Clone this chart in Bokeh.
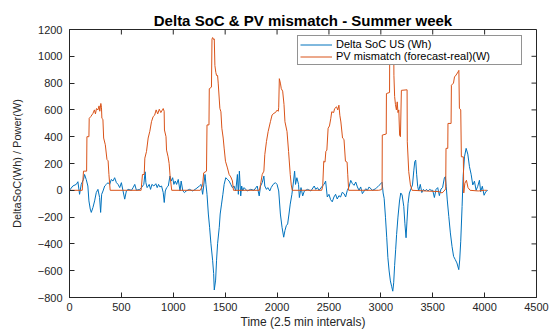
import math
from bokeh.plotting import figure
from bokeh.models import Range1d, FixedTicker, Legend, LegendItem
from bokeh.embed import file_html
from bokeh.resources import INLINE

# ---------------- data ----------------
x_ticks = [0, 500, 1000, 1500, 2000, 2500, 3000, 3500, 4000, 4500]
y_ticks = [-800, -600, -400, -200, 0, 200, 400, 600, 800, 1000, 1200]

soc_t = [0, 32, 65, 81, 97, 113, 135, 145, 161, 177, 187, 200, 210, 226, 242, 258, 274, 290, 300, 310,
         323, 339, 355, 371, 387, 403, 419, 435, 452, 468, 484, 500, 516, 532, 548, 565, 597, 613, 629, 645,
         677, 694, 716, 729, 736, 748, 768, 781, 794, 813, 832, 845, 858, 871, 887, 903, 913, 923, 936, 952,
         968, 981, 994, 1006, 1019, 1032, 1048, 1065, 1076, 1092, 1108, 1124, 1156, 1188, 1220, 1252, 1268,
         1283, 1293, 1306, 1315, 1325, 1338, 1350, 1363, 1379, 1389, 1395, 1408, 1417, 1427, 1443, 1452,
         1465, 1478, 1490, 1506, 1522, 1538, 1554, 1570, 1586, 1602, 1618, 1627, 1637, 1650, 1659, 1669,
         1682, 1713, 1745, 1777, 1809, 1818, 1828, 1841, 1857, 1873, 1882, 1898, 1911, 1930, 1943, 1962,
         1984, 2000, 2016, 2032, 2048, 2064, 2076, 2089, 2102, 2115, 2127, 2143, 2159, 2169, 2178, 2191,
         2207, 2215, 2231, 2247, 2263, 2294, 2326, 2358, 2373, 2389, 2405, 2437, 2453, 2468, 2484, 2500,
         2516, 2532, 2548, 2564, 2580, 2596, 2612, 2628, 2645, 2661, 2677, 2693, 2710, 2726, 2742, 2758,
         2774, 2790, 2806, 2822, 2855, 2871, 2887, 2919, 2951, 2983, 3000, 3012, 3022, 3032, 3045, 3057,
         3068, 3080, 3092, 3105, 3115, 3124, 3133, 3143, 3152, 3165, 3180, 3192, 3205, 3221, 3232, 3243,
         3252, 3262, 3275, 3290, 3305, 3318, 3327, 3336, 3345, 3355, 3365, 3380, 3395, 3410, 3425, 3440,
         3455, 3470, 3485, 3500, 3516, 3532, 3548, 3564, 3580, 3595, 3612, 3622, 3630, 3640, 3655, 3670,
         3686, 3701, 3717, 3733, 3751, 3760, 3770, 3783, 3793, 3806, 3822, 3838, 3854, 3870, 3886, 3902,
         3918, 3934, 3950, 3962, 3978, 3995, 4011, 4030]
soc_v = [0, 32, 44, 64, -30, 44, 81, 118, 81, 32, -79, -140, -165, -128, -79, -17, 7, -54, -165, -30,
         -5, 32, 44, 57, 44, 81, 69, 94, 57, 44, 20, 57, -5, -66, -5, 7, 0, 20, 44, 0,
         7, 20, 44, 138, 57, 20, 44, 7, 44, 32, 49, 20, 44, 25, 32, -17, -91, -5, 20, 32,
         106, 69, 94, 44, 69, 44, 81, -5, 69, -5, -17, -5, 7, -5, 12, 32, 44,
         -30, 32, 118, 44, -30, -177, -276, -399, -522, -621, -744, -670, -522, -399, -276, -177,
         -103, -30, 44, 94, 81, 69, 44, 20, 32, -5, 118, -30, 143, -42, 32, -5,
         20, -5, 7, 0, 32, -5, -42, 32, 57, 106, 32, 7, 20, -5, 20, 44,
         57, 44, -5, -177, -276, -350, -300, -264, -251, -177, -103, -30, 69, 143, 44, 94,
         44, -54, 20, -42, -5, 7, -5, 32, 7, 20, 0, 32, 44, 69, -50, -30,
         -70, -86, -50, -30, -65, -40, -50, -15, -25, -50, 0, 25, 74, 50, 37, 62,
         25, 0, 25, -25, 12, 0, 25, 0, 12, 37, 49, 60, -20, -60, -205, -354,
         -503, -602, -676, -720, -753, -690, -560, -440, -330, -200, -80, -20, -35, -120, -250, -354,
         -230, -100, -20, 10, 40, 150, 214, 225, 120, 30, -5, 44, -17, 7, -5, 7,
         -5, 7, 0, 0, -54, 7, 20, -40, 10, 20, 92, 102, 30, -72, -196, -318,
         -419, -493, -517, -542, -592, -520, -380, -121, 102, 250, 313, 270, 176, 120, 40, 68,
         0, 30, 75, -10, 30, -37, -10, 0]

pv_t = [0, 123, 135, 165, 168, 187, 190, 205, 226, 240, 250, 260, 274, 285, 292, 302, 308, 312, 322, 329,
        345, 361, 372, 380, 392, 690, 703, 720, 726, 742, 758, 774, 790, 806, 820, 835, 850, 865, 880, 895,
        903, 912, 915, 930, 935, 950, 960, 970, 985, 1260, 1283, 1293, 1320, 1325, 1344, 1347, 1368, 1373,
        1379, 1390, 1395, 1401, 1410, 1417, 1427, 1433, 1449, 1459, 1468, 1481, 1490, 1503, 1522, 1538,
        1554, 1570, 1580, 1830, 1841, 1857, 1873, 1882, 1898, 1914, 1936, 1952, 1970, 1984, 2000, 2012,
        2016, 2022, 2032, 2041, 2054, 2067, 2076, 2096, 2111, 2127, 2137, 2146, 2430, 2440, 2450, 2462,
        2470, 2480, 2492, 2505, 2518, 2527, 2545, 2555, 2573, 2585, 2596, 2605, 2615, 2631, 2645, 2659,
        2675, 2681, 2690, 2980, 3005, 3012, 3014, 3052, 3054, 3084, 3086, 3095, 3110, 3124, 3126, 3133,
        3141, 3150, 3158, 3165, 3173, 3181, 3189, 3198, 3253, 3255, 3269, 3285, 3301, 3560, 3590, 3610,
        3625, 3628, 3645, 3647, 3677, 3680, 3700, 3710, 3725, 3744, 3752, 3757, 3770, 3776, 3795, 3799,
        3810, 3825, 3840, 3860, 3940, 4000, 4022]
pv_v = [0, 0, 143, 143, 400, 400, 537, 550, 574, 600, 570, 610, 600, 630, 590, 648, 620, 537, 530, 390,
        340, 230, 220, 118, 0, 0, 118, 118, 240, 290, 390, 440, 512, 550, 560, 600, 570, 605, 580, 600,
        610, 590, 450, 400, 300, 250, 200, 100, 0, 0, 37, 130, 143, 488, 488, 758, 770, 1128,
        1140, 1125, 1130, 931, 880, 857, 857, 800, 611, 586, 463, 390, 315, 217, 167, 118,
        100, 70, 0, 0, 44, 118, 143, 266, 365, 438, 512, 562, 575, 580, 598, 590,
        620, 833, 800, 758, 740, 640, 512, 438, 290, 118, 40, 0, 0, 30, 217, 210,
        290, 300, 463, 480, 537, 586, 580, 610, 623, 600, 635, 560, 510, 390, 380, 217,
        210, 120, 0, 0, 5, 16, 412, 420, 722, 730, 1120, 1145, 1130, 1140, 858, 700,
        640, 600, 660, 580, 600, 412, 400, 746, 750, 362, 139, 40, 0, -10, -20, -5,
        10, 313, 313, 499, 499, 784, 800, 846, 860, 883, 895, 612, 600, 250, 250, -20,
        53, 75, 20, 0, -5, 0, 0]

series_names = ["Delta SoC US (Wh)", "PV mismatch (forecast-real)(W)"]
title_text = "Delta SoC & PV mismatch - Summer week"
x_label = "Time (2.5 min intervals)"
y_label = "DeltaSoC(Wh) / Power(W)"

# ---------------- styling ----------------
FONT = "Liberation Sans"
AX = "#262626"
BLUE = "#0072BD"
ORANGE = "#D95319"

p = figure(width=552, height=331, output_backend="svg", toolbar_location=None,
           x_range=Range1d(0, 4500), y_range=Range1d(-800, 1200),
           min_border_left=69, min_border_right=16, min_border_top=29, min_border_bottom=33,
           title=title_text)
p.title.text_font = FONT
p.title.text_font_size = "15px"
p.title.text_font_style = "bold"
p.title.text_color = "#000000"
p.title.align = "center"
p.title.standoff = 2

p.background_fill_color = "white"
p.border_fill_color = "white"
p.outline_line_color = AX
p.outline_line_width = 1
p.grid.visible = False

for ax in p.xaxis + p.yaxis:
    ax.major_tick_in = 5
    ax.major_tick_out = 0
    ax.minor_tick_in = 0
    ax.minor_tick_out = 0
    ax.axis_line_color = AX
    ax.major_tick_line_color = AX
    ax.major_label_text_font = FONT
    ax.major_label_text_font_size = "11px"
    ax.major_label_text_color = AX
    ax.axis_label_text_font = FONT
    ax.axis_label_text_font_style = "normal"
    ax.axis_label_text_color = AX

p.xaxis.ticker = FixedTicker(ticks=x_ticks)
p.yaxis.ticker = FixedTicker(ticks=y_ticks)
p.xaxis.major_label_standoff = 5
p.xaxis.axis_label = x_label
p.xaxis.axis_label_text_font_size = "12px"
p.xaxis.axis_label_standoff = 1
p.yaxis.major_label_standoff = 7
p.yaxis.axis_label = y_label
p.yaxis.axis_label_text_font_size = "11px"
p.yaxis.axis_label_standoff = 12

# inward ticks on the top and right edges of the box (MATLAB "box on")
p.ray(x=x_ticks, y=[y_ticks[-1]] * len(x_ticks), length=5, length_units="screen",
      angle=-math.pi / 2, line_color=AX, line_width=1)
p.ray(x=[x_ticks[-1]] * len(y_ticks), y=y_ticks, length=5, length_units="screen",
      angle=math.pi, line_color=AX, line_width=1)

r_soc = p.line(soc_t, soc_v, line_color=BLUE, line_width=1)
r_pv = p.line(pv_t, pv_v, line_color=ORANGE, line_width=1)

legend = Legend(items=[LegendItem(label=series_names[0], renderers=[r_soc]),
                       LegendItem(label=series_names[1], renderers=[r_pv])],
                location=(228, 232))
legend.border_line_color = AX
legend.border_line_width = 1
legend.background_fill_color = "white"
legend.background_fill_alpha = 1
legend.label_text_font = FONT
legend.label_text_font_size = "11px"
legend.label_text_color = "#000000"
legend.label_height = 11
legend.label_width = 183
legend.glyph_height = 11
legend.glyph_width = 32
legend.spacing = 0
legend.padding = 2
legend.margin = 0
legend.label_standoff = 4
p.add_layout(legend)

open("out.html", "w").write(file_html(p, INLINE))
